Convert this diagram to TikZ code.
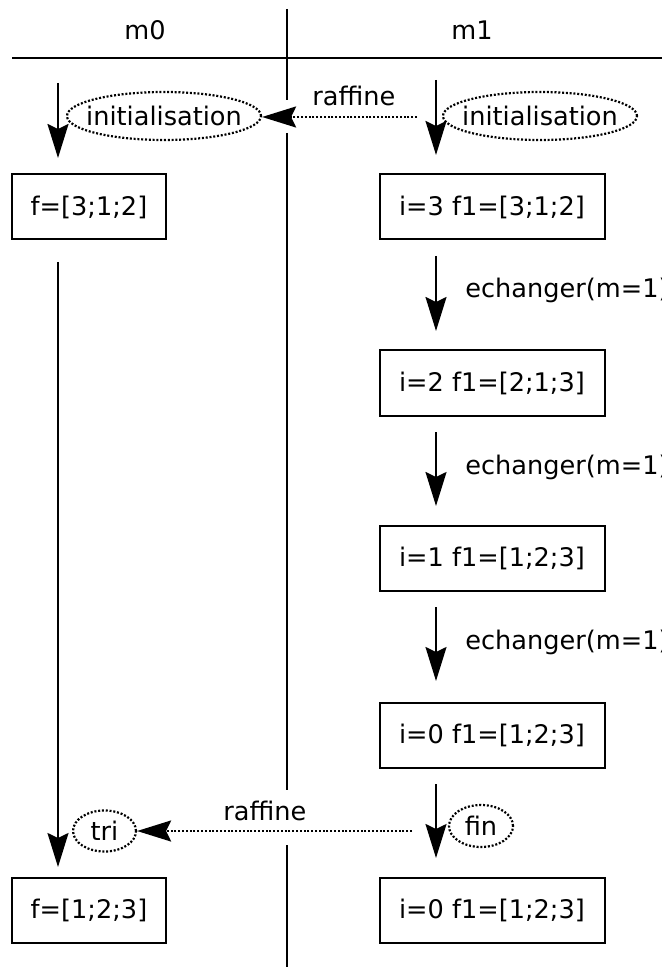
\documentclass[tikz,border=0pt]{standalone}
\usepackage{fontspec}
\setmainfont{DejaVu Sans}
\usetikzlibrary{arrows.meta,shapes.geometric}
\begin{document}
\begin{tikzpicture}[x=0.5pt,y=-0.5pt,
  font=\fontsize{12.8pt}{15.5pt}\selectfont,
  every node/.style={inner sep=0pt},
  statebox/.style={draw, line width=1pt, rectangle, minimum height=32.5pt},
  lbox/.style={statebox, minimum width=77pt},
  rbox/.style={statebox, minimum width=112.5pt},
  evt/.style={draw, ellipse, line width=1.1pt, dash pattern=on 1pt off 0.9pt},
  bigevt/.style={evt, inner xsep=-4.6pt, minimum width=92pt, minimum height=24pt},
  flow/.style={line width=1pt, -{Stealth[length=17pt,width=10.5pt,inset=2.5pt]}},
  msg/.style={flow, dash pattern=on 1pt off 0.9pt, line width=1.1pt},
  axis/.style={line width=1pt}]
\useasboundingbox (0,0) rectangle (662,967);

% header
\node[anchor=base] (m0) at (145,40) {m0};
\node[anchor=base] (m1) at (472,40) {m1};
\coordinate (hl) at (12,58);
\coordinate (hr) at (662,58);
\draw[axis] (hl) -- (hr);
\coordinate (v0) at (287,9);
\coordinate (v1) at (287,100);
\coordinate (v2) at (287,133);
\coordinate (v3) at (287,790);
\coordinate (v4) at (287,845);
\coordinate (v5) at (287,967);
\draw[axis] (v0) -- (v1);
\draw[axis] (v2) -- (v3);
\draw[axis] (v4) -- (v5);

% left column
\node[bigevt] (initL) at (164,116) {initialisation};
\node[lbox] (f0) at (89,207) {f=[3;1;2]};
\node[lbox] (f1) at (89,910.5) {f=[1;2;3]};
\node[evt, minimum width=31.5pt, minimum height=20.5pt] (tri) at (104.5,831) {tri};

\coordinate (la0) at (58,83);
\coordinate (la1) at (58,158);
\coordinate (lb0) at (58,262);
\coordinate (lb1) at (58,867);
\draw[flow] (la0) -- (la1);
\draw[flow] (lb0) -- (lb1);

% right column
\node[bigevt] (initR) at (540,116) {initialisation};
\node[rbox] (r3) at (492,207) {i=3 f1=[3;1;2]};
\node[rbox] (r2) at (492,383) {i=2 f1=[2;1;3]};
\node[rbox] (r1) at (492,558.5) {i=1 f1=[1;2;3]};
\node[rbox] (r0) at (492,735) {i=0 f1=[1;2;3]};
\node[evt, minimum width=32pt, minimum height=21pt] (fin) at (481,826) {fin};
\node[rbox] (rf) at (492,910.5) {i=0 f1=[1;2;3]};

\coordinate (ra0) at (436,80);
\coordinate (ra1) at (436,155);
\coordinate (rb0) at (436,256);
\coordinate (rb1) at (436,331);
\coordinate (rc0) at (436,432);
\coordinate (rc1) at (436,506);
\coordinate (rd0) at (436,607);
\coordinate (rd1) at (436,681);
\coordinate (re0) at (436,784);
\coordinate (re1) at (436,858);
\draw[flow] (ra0) -- (ra1);
\draw[flow] (rb0) -- (rb1);
\draw[flow] (rc0) -- (rc1);
\draw[flow] (rd0) -- (rd1);
\draw[flow] (re0) -- (re1);

\node[anchor=base west] (e1) at (465,298) {echanger(m=1)};
\node[anchor=base west] (e2) at (465,474) {echanger(m=1)};
\node[anchor=base west] (e3) at (465,649) {echanger(m=1)};

% messages
\coordinate (mt0) at (417,117);
\draw[msg] (mt0) -- (initL.east |- mt0);
\node[anchor=base west] (raf1) at (312,106) {raffine};
\coordinate (mb0) at (412,831);
\draw[msg] (mb0) -- (tri.east |- mb0);
\node[anchor=base west] (raf2) at (223,820) {raffine};
\end{tikzpicture}
\end{document}
